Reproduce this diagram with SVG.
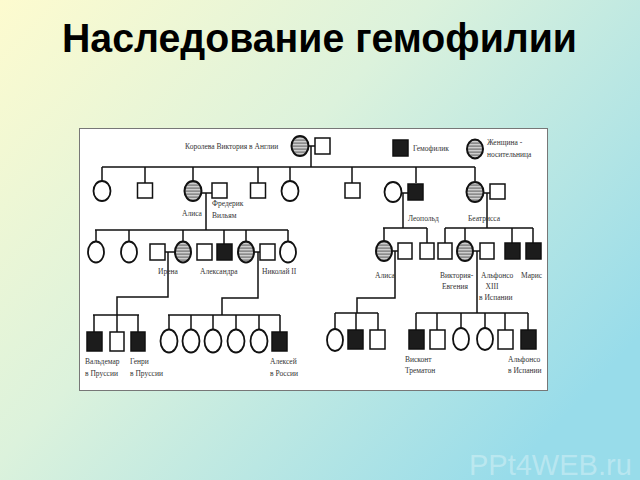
<svg xmlns="http://www.w3.org/2000/svg" width="640" height="480" viewBox="0 0 640 480">
<defs>
<linearGradient id="bg" x1="0" y1="0" x2="1" y2="0.7">
<stop offset="0" stop-color="#fdfbcf"/>
<stop offset="0.45" stop-color="#dcf2dc"/>
<stop offset="1" stop-color="#98dcea"/>
</linearGradient>
<pattern id="hatch" width="4" height="3" patternUnits="userSpaceOnUse">
<rect width="4" height="3" fill="#8c8c8c"/>
<rect y="0" width="4" height="1.3" fill="#cfcfcf"/>
</pattern>
<style>
.sq{fill:#fff;stroke:#111;stroke-width:1.5}
.aff{fill:#1c1c1c;stroke:#111;stroke-width:1.5}
.f{fill:#fff;stroke:#111;stroke-width:1.8}
.car{fill:url(#hatch);stroke:#111;stroke-width:2}
.ln{stroke:#111;stroke-width:1.5;fill:none}
.lbl{font-family:"Liberation Serif","DejaVu Serif",serif;font-size:7.5px;fill:#333}
</style>
</defs>
<rect width="640" height="480" fill="url(#bg)"/>
<text x="62" y="52" textLength="515" lengthAdjust="spacingAndGlyphs" font-family="Liberation Sans, Arial, sans-serif" font-weight="bold" font-size="40" fill="#000">Наследование гемофилии</text>
<text x="469" y="475" font-family="Liberation Sans, Arial, sans-serif" font-size="29" fill="#fff" fill-opacity="0.32">PPt4WEB.ru</text>
<rect x="79.5" y="128.5" width="468" height="262" fill="#fff" stroke="#777" stroke-width="1"/>

<g id="connectors" class="ln">
<path d="M308.5 146H315M311 146V167M102 167H475M102 167V181M145 167V183M193 167V181M258 167V183M290 167V181M352 167V183M416 167V183M475 167V181"/>
<path d="M201.5 193H212M206 193V230M95 230H288M96 230V241.5M129 230V241.5M183 230V241.5M224 230V244M246 230V241.5M288 230V241.5"/>
<path d="M165 252H175M168 252V297H117V315M93 315H139M94 315V332M117 315V332M138 315V332"/>
<path d="M254 252H260M258 252V298H222V315M168 315H280M169 315V329.5M191 315V329.5M213 315V329.5M236 315V329.5M259 315V329.5M280 315V332"/>
<path d="M401.5 193H408M403 193V228M383 228H427M384 228V240.5M427 228V243"/>
<path d="M483.5 193H490M487 193V228M445 228H533M445 228V243M465 228V240.5M512 228V243M533 228V243"/>
<path d="M392.5 251H398M395 251V298H357V313M335 313H378M335 313V329M356 313V330M378 313V330"/>
<path d="M473 251H480M477 251V313M416 313H528M416 313V330M437 313V330M461 313V329M485 313V329M505 313V330M528 313V330"/>
</g>

<g id="legend">
<rect class="aff" x="393" y="140" width="15" height="16"/>
<text class="lbl" x="413" y="151">Гемофилик</text>
<ellipse class="car" cx="475" cy="149" rx="8" ry="9.5"/>
<text class="lbl" x="487" y="145">Женщина -</text>
<text class="lbl" x="487" y="157">носительница</text>
</g>

<g id="victoria"><ellipse class="car" cx="300" cy="146" rx="8.5" ry="10"/><text class="lbl" x="185" y="149">Королева Виктория в Англии</text></g>
<g id="albert"><rect class="sq" x="315" y="138" width="15" height="16"/></g>

<g id="g2-c1"><ellipse class="f" cx="102" cy="191" rx="8.5" ry="10"/></g>
<g id="g2-s1"><rect class="sq" x="137.5" y="183" width="15" height="15"/></g>
<g id="alice"><ellipse class="car" cx="193" cy="191" rx="8.5" ry="10"/><text class="lbl" x="182" y="216">Алиса</text></g>
<g id="frederick"><rect class="sq" x="212" y="183" width="15" height="15"/><text class="lbl" x="212" y="206">Фредерик</text><text class="lbl" x="212" y="218">Вильям</text></g>
<g id="g2-s2"><rect class="sq" x="250.5" y="183" width="15" height="15"/></g>
<g id="g2-c2"><ellipse class="f" cx="290" cy="191" rx="8.5" ry="10"/></g>
<g id="g2-s3"><rect class="sq" x="345" y="183" width="15" height="15"/></g>
<g id="leopold-wife"><ellipse class="f" cx="393" cy="192" rx="8.5" ry="10"/></g>
<g id="leopold"><rect class="aff" x="408" y="184" width="15" height="16"/><text class="lbl" x="408" y="221">Леопольд</text></g>
<g id="beatrice"><ellipse class="car" cx="475" cy="192" rx="8.5" ry="10"/><text class="lbl" x="468" y="221">Беатрисса</text></g>
<g id="beatrice-husband"><rect class="sq" x="490" y="184" width="15" height="15"/></g>

<g id="g3-c1"><ellipse class="f" cx="96" cy="252" rx="8" ry="10.5"/></g>
<g id="g3-c2"><ellipse class="f" cx="129" cy="252" rx="8" ry="10.5"/></g>
<g id="henry"><rect class="sq" x="150" y="244" width="15" height="16"/></g>
<g id="irene"><ellipse class="car" cx="183" cy="252" rx="8" ry="10.5"/><text class="lbl" x="158" y="274">Ирена</text></g>
<g id="g3-s1"><rect class="sq" x="197" y="244" width="15" height="16"/></g>
<g id="g3-a1"><rect class="aff" x="217" y="244" width="15" height="16"/></g>
<g id="alexandra"><ellipse class="car" cx="246" cy="252" rx="8" ry="10.5"/><text class="lbl" x="200" y="274">Александра</text></g>
<g id="nicholas"><rect class="sq" x="260" y="244" width="15" height="16"/><text class="lbl" x="262" y="274">Николай II</text></g>
<g id="g3-c3"><ellipse class="f" cx="288" cy="252" rx="8" ry="10.5"/></g>

<g id="alice2"><ellipse class="car" cx="384" cy="251" rx="8" ry="10"/><text class="lbl" x="375" y="278">Алиса</text></g>
<g id="alice2-husband"><rect class="sq" x="398" y="243" width="14" height="16"/></g>
<g id="g3-s2"><rect class="sq" x="420" y="243" width="14" height="16"/></g>
<g id="g3-s3"><rect class="sq" x="438" y="243" width="14" height="16"/></g>
<g id="victoria-eugenie"><ellipse class="car" cx="465" cy="251" rx="8" ry="10"/><text class="lbl" x="440" y="278">Виктория-</text><text class="lbl" x="442" y="289">Евгения</text></g>
<g id="alfonso13"><rect class="sq" x="480" y="243" width="14" height="16"/><text class="lbl" x="481" y="278">Альфонсо</text><text class="lbl" x="492" y="289" text-anchor="middle">XIII</text><text class="lbl" x="479" y="300">в Испании</text></g>
<g id="g3-a2"><rect class="aff" x="505" y="243" width="15" height="16"/></g>
<g id="maurice"><rect class="aff" x="526" y="243" width="15" height="16"/><text class="lbl" x="521" y="278">Марис</text></g>

<g id="waldemar"><rect class="aff" x="87" y="332" width="15" height="19"/><text class="lbl" x="85" y="364">Вальдемар</text><text class="lbl" x="85" y="376">в Пруссии</text></g>
<g id="g4-s1"><rect class="sq" x="110" y="332" width="14" height="19"/></g>
<g id="henry-pr"><rect class="aff" x="131" y="332" width="14" height="19"/><text class="lbl" x="130" y="364">Генри</text><text class="lbl" x="130" y="376">в Пруссии</text></g>
<g id="g4-c1"><ellipse class="f" cx="169" cy="341" rx="8.5" ry="11.5"/></g>
<g id="g4-c2"><ellipse class="f" cx="191" cy="341" rx="8.5" ry="11.5"/></g>
<g id="g4-c3"><ellipse class="f" cx="213" cy="341" rx="8.5" ry="11.5"/></g>
<g id="g4-c4"><ellipse class="f" cx="236" cy="341" rx="8.5" ry="11.5"/></g>
<g id="g4-c5"><ellipse class="f" cx="259" cy="341" rx="8.5" ry="11.5"/></g>
<g id="alexei"><rect class="aff" x="272" y="332" width="15" height="19"/><text class="lbl" x="270" y="364">Алексей</text><text class="lbl" x="270" y="376">в России</text></g>

<g id="g4-c6"><ellipse class="f" cx="335" cy="340" rx="8" ry="11"/></g>
<g id="g4-a1"><rect class="aff" x="348" y="330" width="15" height="19"/></g>
<g id="g4-s2"><rect class="sq" x="370" y="330" width="15" height="19"/></g>
<g id="trematon"><rect class="aff" x="409" y="330" width="15" height="19"/><text class="lbl" x="405" y="362">Висконт</text><text class="lbl" x="405" y="373">Трематон</text></g>
<g id="g4-s3"><rect class="sq" x="430" y="330" width="15" height="19"/></g>
<g id="g4-c7"><ellipse class="f" cx="461" cy="339" rx="8" ry="11"/></g>
<g id="g4-c8"><ellipse class="f" cx="485" cy="339" rx="8" ry="11"/></g>
<g id="g4-s4"><rect class="sq" x="498" y="330" width="15" height="19"/></g>
<g id="alfonso"><rect class="aff" x="521" y="330" width="15" height="19"/><text class="lbl" x="508" y="362">Альфонсо</text><text class="lbl" x="508" y="373">в Испании</text></g>
</svg>
